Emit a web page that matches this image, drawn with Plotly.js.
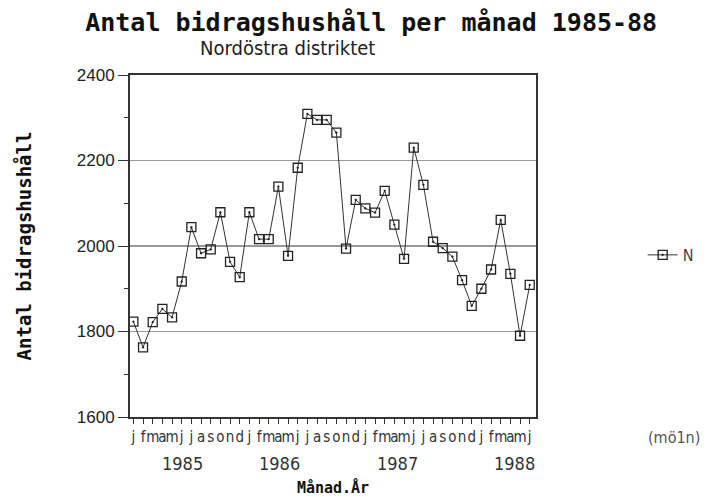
<!DOCTYPE html>
<html>
<head>
<meta charset="utf-8">
<script src="https://cdn.plot.ly/plotly-3.0.1.min.js"></script>
<style>html,body{margin:0;padding:0;background:#fff;}#chart{width:707px;height:497px;}</style>
</head>
<body>
<div id="chart"></div>
<script>
// Monthly counts, Jan 1985 – Jun 1988
const monthLabels = ["j","f","m","a","m","j","j","a","s","o","n","d",
                     "j","f","m","a","m","j","j","a","s","o","n","d",
                     "j","f","m","a","m","j","j","a","s","o","n","d",
                     "j","f","m","a","m","j"];
const yearLabels = ["1985","1986","1987","1988"];
const seriesName = "N";
const valuesN = [1823,1763,1822,1853,1833,1917,2044,1983,1992,2079,1963,1927,
                 2079,2016,2016,2139,1977,2183,2309,2295,2295,2265,1994,2108,
                 2088,2078,2129,2050,1970,2230,2143,2010,1995,1975,1920,1860,
                 1900,1945,2061,1935,1790,1909];
const yTicks = [1600,1800,2000,2200,2400];

const xIdx = valuesN.map((_, i) => i);
const narrow = "Liberation Sans Narrow, DejaVu Sans Condensed, Arial Narrow, sans-serif";
const mono = "DejaVu Sans Mono, Liberation Mono, monospace";

const trace = {
  x: xIdx, y: valuesN, type: "scatter", mode: "lines+markers", name: seriesName,
  line: {color: "#333", width: 1},
  marker: {symbol: "square-open-dot", size: 9, color: "#222", line: {color: "#222", width: 1.3}}
};

const yearPos = [0.130, 0.369, 0.658, 0.948];
const annotations = yearLabels.map((t, i) => ({
  text: t, xref: "paper", yref: "paper", x: yearPos[i], y: -0.135,
  xanchor: "center", yanchor: "middle", showarrow: false,
  font: {family: narrow, size: 18, color: "#333"}
}));
annotations.push({
  text: "Nordöstra distriktet", xref: "paper", yref: "paper", x: 0.387, y: 1.08,
  xanchor: "center", yanchor: "middle", showarrow: false,
  font: {family: narrow, size: 20, color: "#222"}
});
annotations.push({
  text: "(mö1n)", xref: "paper", yref: "paper", x: 1.41, y: -0.06,
  xanchor: "right", yanchor: "middle", showarrow: false,
  font: {family: narrow, size: 16, color: "#555"}
});

const layout = {
  width: 707, height: 497,
  margin: {l: 130, r: 171, t: 75, b: 80},
  paper_bgcolor: "#fff", plot_bgcolor: "#fff",
  title: {text: "<b>Antal bidragshushåll per månad 1985-88</b>", x: 0.525, xanchor: "center", y: 0.955, yanchor: "middle",
          font: {family: mono, size: 25, color: "#111"}},
  xaxis: {
    range: [-0.35, 41.65], tickmode: "array", tickvals: xIdx, ticktext: monthLabels, tickangle: 0,
    ticks: "outside", ticklen: 5, tickwidth: 1, tickcolor: "#333",
    showline: true, linecolor: "#333", linewidth: 2, mirror: true,
    showgrid: false, zeroline: false,
    tickfont: {family: narrow, size: 15, color: "#333"},
    title: {text: "<b>Månad.År</b>", standoff: 38, font: {family: mono, size: 15, color: "#111"}}
  },
  yaxis: {
    range: [1600, 2400], tickmode: "array", tickvals: yTicks,
    ticks: "outside", ticklen: 10, tickwidth: 1, tickcolor: "#333",
    minor: {dtick: 100, tick0: 1600, ticks: "outside", ticklen: 4, tickcolor: "#333", showgrid: false},
    showline: true, linecolor: "#333", linewidth: 2, mirror: true,
    showgrid: true, gridcolor: "#999", gridwidth: 1.5, zeroline: false,
    tickfont: {family: "Liberation Sans, Arial, sans-serif", size: 17, color: "#222"},
    title: {text: "<b>Antal bidragshushåll</b>", standoff: 40, font: {family: mono, size: 19, color: "#111"}}
  },
  showlegend: true,
  legend: {xref: "container", yref: "container", x: 0.909, y: 0.487, xanchor: "left", yanchor: "middle",
           bgcolor: "rgba(0,0,0,0)", font: {family: narrow, size: 16, color: "#444"}, itemwidth: 30},
  annotations: annotations
};

Plotly.newPlot("chart", [trace], layout, {displayModeBar: false, staticPlot: true});
</script>
</body>
</html>
